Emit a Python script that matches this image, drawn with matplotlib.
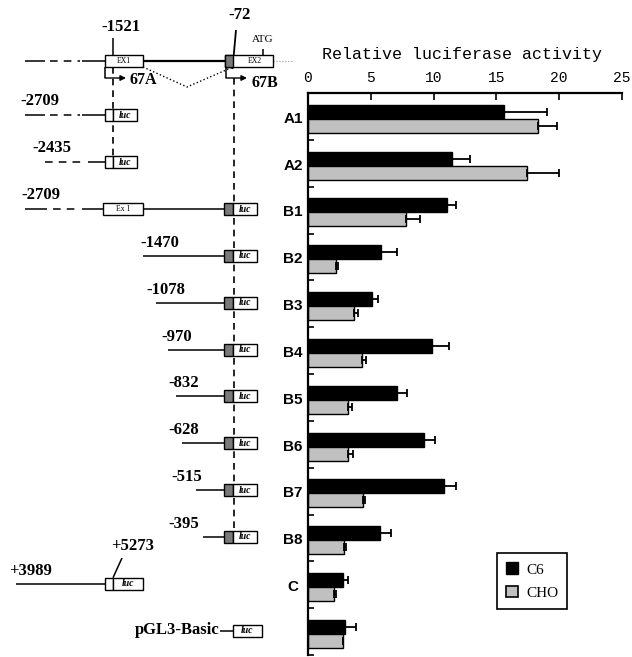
import matplotlib
matplotlib.use('Agg')
import matplotlib.pyplot as plt
from matplotlib.patches import Rectangle, Patch

# bar chart data (relative luciferase activity)
groups = ['A1', 'A2', 'B1', 'B2', 'B3', 'B4', 'B5', 'B6', 'B7', 'B8', 'C', '']
c6 = [15.6, 11.5, 11.05, 5.8, 5.1, 9.9, 7.05, 9.27, 10.8, 5.7, 2.8, 2.95]
c6_err = [3.4, 1.4, 0.75, 1.3, 0.45, 1.35, 0.8, 0.85, 0.95, 0.9, 0.4, 0.85]
cho = [18.3, 17.4, 7.8, 2.2, 3.7, 4.3, 3.2, 3.2, 4.35, 2.9, 2.1, 2.75]
cho_err = [1.5, 2.6, 1.1, 0.2, 0.25, 0.3, 0.3, 0.4, 0.2, 0.15, 0.15, 0.0]
xticks = [0, 5, 10, 15, 20, 25]

# construct labels
b_labels = ['-1470', '-1078', '-970', '-832', '-628', '-515', '-395']
b_start = [143, 156, 168, 176, 182, 196, 203]
b_label_x = [160, 166, 177, 184, 184, 187, 184]

W, H = 632, 657
fig = plt.figure(figsize=(W / 100, H / 100), dpi=100)

# ---- left: construct diagrams, drawn in pixel space ----
d = fig.add_axes([0, 0, 1, 1])
d.set_xlim(0, W)
d.set_ylim(H, 0)
d.axis('off')

AX_TOP, AX_BOT = 93, 655
gh = (AX_BOT - AX_TOP) / len(groups)

def row_y(i):
    return AX_TOP + (i + 0.5) * gh - 1

serif = 'Liberation Serif'
LW = 1.1

def lbl(x, y, s, size=12):
    d.text(x, y, s, ha='center', va='center', fontsize=size,
           fontweight='bold', family=serif)

def line(xs, ys, **kw):
    kw.setdefault('lw', LW)
    kw.setdefault('color', 'k')
    d.plot(xs, ys, solid_capstyle='butt', **kw)

def box(x0, x1, y, fc='white'):
    d.add_patch(Rectangle((x0, y - 6), x1 - x0, 12, fc=fc, ec='k', lw=1.0, zorder=3))

def luc(x0, x1, y):
    box(x0, x1, y)
    d.text((x0 + x1) / 2, y, 'luc', ha='center', va='center', fontsize=7,
           style='italic', fontweight='bold', family=serif, zorder=4)

def dashdot_lead(y, x_end, pattern):
    # pattern: list of (x0, x1, dashed?)
    for x0, x1, dashed in pattern:
        if dashed:
            line([x0, x1], [y, y], dashes=(5, 4))
        else:
            line([x0, x1], [y, y])

# genomic structure (top row)
yg = 61
dashdot_lead(yg, 105, [(25, 45, False), (50, 80, True), (82, 105, False)])
box(105, 143, yg)
d.text(124, yg, 'EX1', ha='center', va='center', fontsize=5.5, family=serif, zorder=4)
line([143, 225], [yg, yg], lw=1.6)
box(225, 273, yg)
d.add_patch(Rectangle((225, yg - 6), 8, 12, fc='#7a7a7a', ec='k', lw=1.0, zorder=3))
d.text(255, yg, 'EX2', ha='center', va='center', fontsize=5.5, family=serif, zorder=4)
line([273, 292], [yg, yg], color='#999999', lw=0.8, ls=':')
line([113, 113], [38, 55])
lbl(121, 27, '-1521')
line([263, 263], [49, 55])
d.text(263, 40, 'ATG', ha='center', va='center', fontsize=8, family=serif)
line([236, 232.5], [30, 69], lw=1.3)
lbl(240, 15, '-72')
line([143, 187, 233], [67, 87, 67], lw=1.0, ls=':')
for xa, tx, name in [(105, 130, '67A'), (226, 252, '67B')]:
    line([xa, xa], [67, 78])
    d.annotate('', xy=(xa + 21, 78), xytext=(xa, 78),
               arrowprops=dict(arrowstyle='-|>', lw=1.0, color='k',
                               mutation_scale=8, shrinkA=0, shrinkB=0))
    d.text(tx, 80 + (3 if name == '67B' else 0), name, ha='left', va='center',
           fontsize=11.5, fontweight='bold', family=serif)

# A1, A2
for i, name, pat, lx in [(0, '-2709', [(25, 45, False), (50, 80, True), (82, 105, False)], 40),
                         (1, '-2435', [(45, 86, True), (88, 105, False)], 52)]:
    y = row_y(i)
    dashdot_lead(y, 105, pat)
    box(105, 113, y)
    luc(113, 137, y)
    lbl(lx, y - 14, name)

# B1
y = row_y(2)
dashdot_lead(y, 103, [(25, 47, False), (53, 80, True), (82, 103, False)])
box(103, 143, y)
d.text(123, y, 'Ex 1', ha='center', va='center', fontsize=5.5, family=serif, zorder=4)
line([143, 224], [y, y])
box(224, 233, y, fc='#7a7a7a')
luc(233, 257, y)
lbl(41, y - 14, '-2709')

# B2..B8
for k, (name, xs, lx) in enumerate(zip(b_labels, b_start, b_label_x)):
    y = row_y(3 + k)
    line([xs, 224], [y, y])
    box(224, 233, y, fc='#7a7a7a')
    luc(233, 257, y)
    lbl(lx, y - 13, name)

# C
y = row_y(10)
line([16, 105], [y, y])
box(105, 113, y)
luc(113, 143, y)
lbl(31, y - 13, '+3989')
line([122, 113], [558, y - 6])
lbl(133, 546, '+5273')

# pGL3-Basic
y = row_y(11)
line([220, 233], [y, y])
luc(233, 262, y)
d.text(220, y - 1, 'pGL3-Basic', ha='right', va='center', fontsize=12,
       fontweight='bold', family=serif)

# vertical dashed guide lines
line([113, 113], [67, row_y(1) - 6], lw=1.2, dashes=(4, 3))
line([234, 234], [78, row_y(9) - 6], lw=1.2, dashes=(4, 3))

# ---- right: bar chart ----
ax = fig.add_axes([308 / W, 1 - AX_BOT / H, 314 / W, (AX_BOT - AX_TOP) / H])
n = len(groups)
pos = list(range(n))
ax.barh([p + 0.4 for p in pos], c6, height=0.3, color='black', edgecolor='black', lw=1.0,
        xerr=[[0] * n, c6_err], error_kw=dict(ecolor='black', elinewidth=1.3, capsize=3, capthick=1.3))
ax.barh([p + 0.7 for p in pos], cho, height=0.3, color='#c0c0c0', edgecolor='black', lw=1.0,
        xerr=[[0] * n, cho_err], error_kw=dict(ecolor='black', elinewidth=1.3, capsize=3, capthick=1.3))
ax.set_xlim(0, 25)
ax.set_ylim(n, 0)
ax.spines['right'].set_visible(False)
ax.spines['bottom'].set_visible(False)
for s in ('left', 'top'):
    ax.spines[s].set_linewidth(1.6)
ax.xaxis.tick_top()
ax.set_xticks(xticks)
ax.set_xticklabels([str(t) for t in xticks], family='Liberation Mono', fontsize=10.5)
ax.tick_params(axis='x', direction='in', length=5, width=1.2, pad=6)
ax.set_yticks(range(1, n + 1))
ax.set_yticklabels([])
ax.tick_params(axis='y', direction='in', length=4, width=1.2)
ax.text(0.49, 1.0 + 39 / (AX_BOT - AX_TOP), 'Relative luciferase activity',
        transform=ax.transAxes, ha='center', va='center', fontsize=12, family='Liberation Mono')

tr = ax.get_yaxis_transform()
for i, g in enumerate(groups):
    ax.text(-0.048, i + 0.55, g, transform=tr, ha='center', va='center', fontsize=11,
            fontweight='bold', family='Liberation Sans', clip_on=False)

leg = ax.legend(handles=[Patch(fc='black', ec='black'), Patch(fc='#c0c0c0', ec='black', lw=1.2)],
                labels=['C6', 'CHO'], loc='upper left', bbox_to_anchor=(0.602, 0.181),
                borderaxespad=0, fancybox=False, edgecolor='black', framealpha=1,
                handlelength=0.8, handleheight=0.8, handletextpad=0.5,
                prop=dict(family=serif, size=11), borderpad=0.6, labelspacing=0.6)
leg.get_frame().set_linewidth(1.2)

fig.savefig('out.png', dpi=100)
